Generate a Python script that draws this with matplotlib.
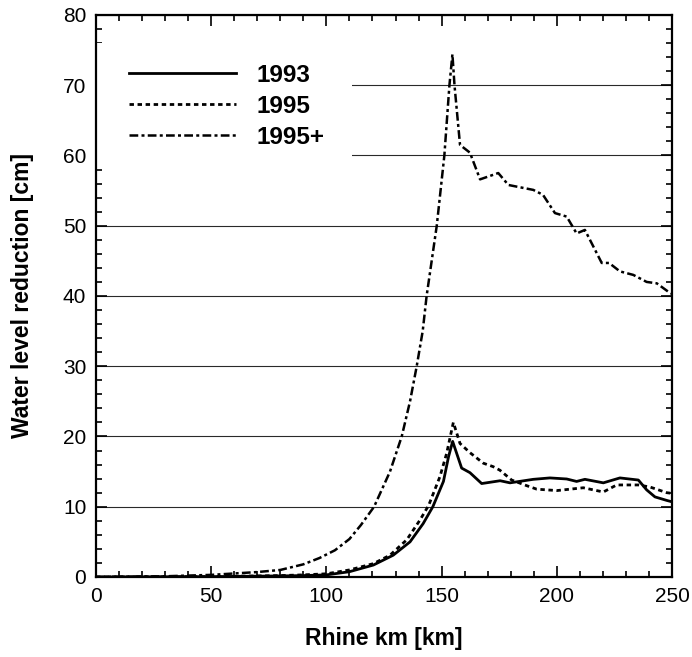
import matplotlib.pyplot as plt
from matplotlib.patches import Rectangle
from matplotlib.ticker import MultipleLocator

plt.rcParams['font.family'] = ['Liberation Sans', 'DejaVu Sans']

# 1993
km_1993 = [0, 50, 80, 90, 100, 110, 120.4, 129, 136.3, 142, 146.2, 150.8, 153, 154.8,
           158.7, 162.3, 167.4, 175.4, 179.7, 189.8, 197, 204.3, 208.6, 212.2, 220.2,
           227.4, 235.4, 239, 242.6, 247.7, 250]
wl_1993 = [0, 0.05, 0.15, 0.2, 0.3, 0.75, 1.7, 3.1, 5.0, 7.6, 10.0, 13.6, 17.1, 19.3,
           15.5, 14.85, 13.3, 13.7, 13.4, 13.9, 14.1, 13.95, 13.6, 13.9, 13.4,
           14.1, 13.8, 12.4, 11.4, 10.9, 10.7]

# 1995
km_1995 = [0, 50, 80, 90, 100, 110, 120.4, 127.6, 134.9, 140.6, 144.4, 149.3, 152.2, 155.1,
           158, 162.3, 168.1, 172.4, 175.3, 180.4, 186.9, 191.3, 200, 205.8, 211.5, 220.2,
           226, 235.4, 240.5, 247.7, 250]
wl_1995 = [0, 0.05, 0.2, 0.3, 0.45, 1.0, 1.9, 3.1, 5.3, 8.1, 10.2, 14.3, 17.6, 22.0,
           19.0, 17.7, 16.2, 15.7, 15.2, 13.8, 13.0, 12.5, 12.3, 12.5, 12.7, 12.1,
           13.1, 13.1, 12.8, 12.0, 11.9]

# 1995+
km_1995p = [0, 30, 50, 70, 80, 90, 97, 103.7, 110, 115, 120.7, 127.6, 132.7, 136.3, 139.2,
            141.8, 143.5, 147.9, 151.2, 153.4, 154.7, 155.6, 158, 162.3, 166.7, 174.6, 179,
            189.8, 194, 199.2, 204.3, 208.6, 212.2, 219.5, 222.7, 227.4, 233.2, 239,
            243.4, 248.4, 250]
wl_1995p = [0, 0.1, 0.3, 0.7, 1.0, 1.8, 2.7, 3.8, 5.4, 7.4, 10.0, 15.0, 20.0, 25.0, 30.0,
            35.0, 40.0, 50.0, 60.0, 70.0, 74.4, 70.0, 61.5, 60.4, 56.6, 57.5, 55.8,
            55.1, 54.4, 51.8, 51.3, 48.9, 49.4, 44.7, 44.7, 43.5, 43.0, 42.0,
            41.8, 40.6, 40.3]

fig = plt.figure(figsize=(6.92, 6.57), dpi=100)
ax = fig.add_axes([0.1387, 0.1218, 0.8324, 0.8554])

ax.plot(km_1993, wl_1993, color='black', lw=2.0, label='1993', zorder=3)
ax.plot(km_1995, wl_1995, color='black', lw=2.0, linestyle=(0, (1.6, 1.3)), label='1995', zorder=3)
ax.plot(km_1995p, wl_1995p, color='black', lw=1.8, linestyle=(0, (3.5, 1.3, 1.2, 1.3)),
        label='1995+', zorder=3)

ax.set_xlim(0, 250)
ax.set_ylim(0, 80)
ax.xaxis.set_major_locator(MultipleLocator(50))
ax.xaxis.set_minor_locator(MultipleLocator(10))
ax.yaxis.set_major_locator(MultipleLocator(10))
ax.yaxis.set_minor_locator(MultipleLocator(2))
ax.tick_params(which='both', direction='in', top=True, right=True, width=1.2)
ax.tick_params(which='major', length=8, labelsize=15, pad=7)
ax.tick_params(which='minor', length=4)
for s in ax.spines.values():
    s.set_linewidth(1.6)

ax.grid(axis='y', which='major', color='#2a2a2a', lw=0.8, zorder=0.5)
ax.set_axisbelow(True)

# white box behind the legend hides the grid there
ax.add_patch(Rectangle((0, 0.735), 0.445, 0.215, transform=ax.transAxes,
                       facecolor='white', edgecolor='none', zorder=1))

ax.legend(loc='upper left', bbox_to_anchor=(0.057, 0.913), frameon=False,
          handlelength=4.4, handletextpad=0.85, labelspacing=0.33, borderaxespad=0,
          borderpad=0, prop={'weight': 'bold', 'size': 17.5})

ax.set_xlabel('Rhine km [km]', fontsize=16.5, fontweight='bold', labelpad=15)
ax.set_ylabel('Water level reduction [cm]', fontsize=16.5, fontweight='bold', labelpad=21)

fig.savefig('out.png', dpi=100)
